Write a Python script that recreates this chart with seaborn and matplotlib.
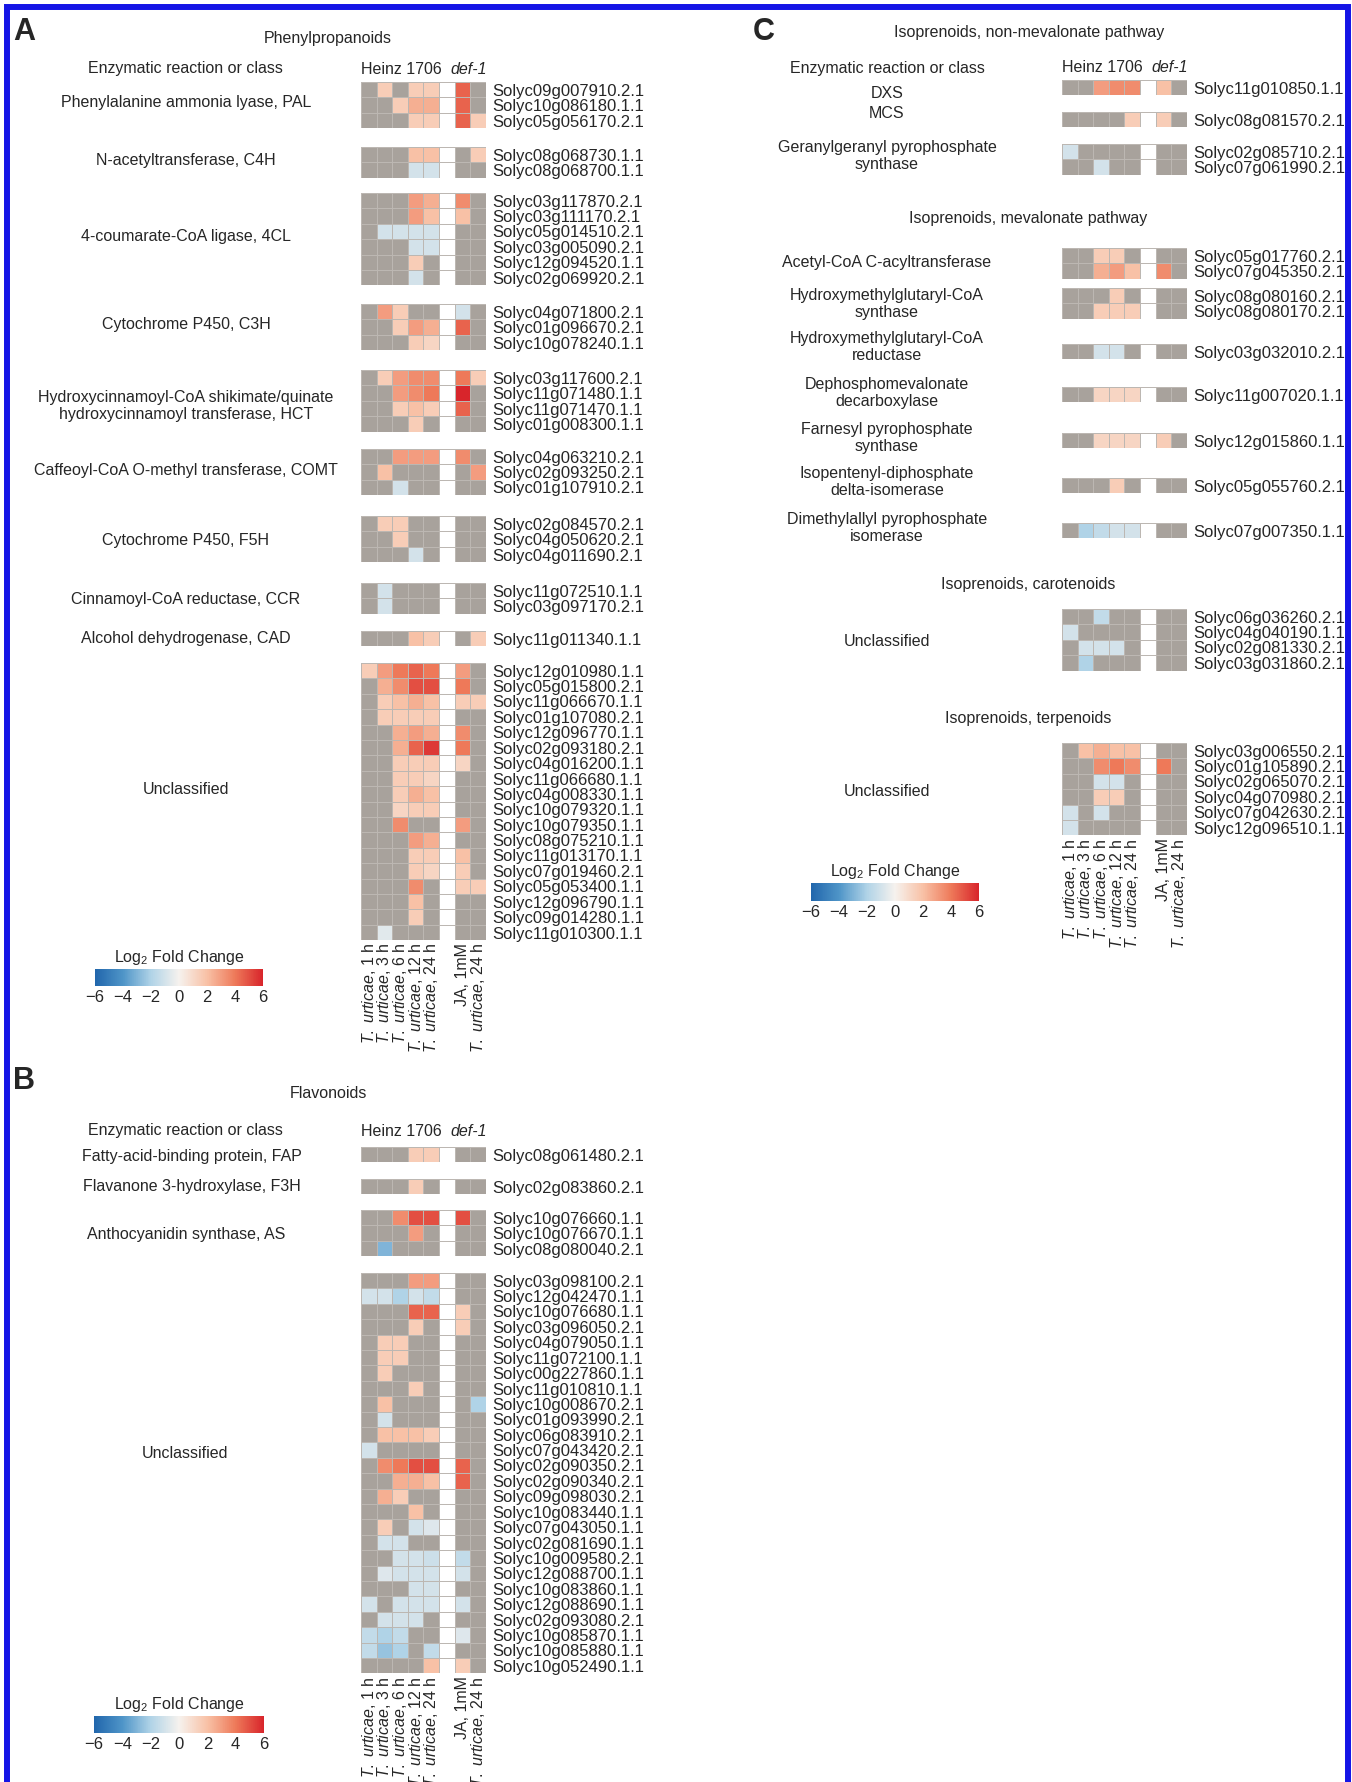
import numpy as np
import pandas as pd
import matplotlib
matplotlib.use("Agg")
import matplotlib.pyplot as plt
import seaborn as sns
from matplotlib.colors import LinearSegmentedColormap, ListedColormap, Normalize
from matplotlib.cm import ScalarMappable
from matplotlib.patches import Rectangle

g = np.nan  # not significant -> grey cell

conditions = ["T. urticae, 1 h", "T. urticae, 3 h", "T. urticae, 6 h",
              "T. urticae, 12 h", "T. urticae, 24 h", "JA, 1mM", "T. urticae, 24 h"]

# ---------------- A: phenylpropanoids ----------------
pal_genes = ["Solyc09g007910.2.1", "Solyc10g086180.1.1", "Solyc05g056170.2.1"]
pal_vals = [[g, 1.5, g, 1.5, 1.5, 4.5, g],
            [g, g, 1.5, 2.5, 2.5, 4.5, g],
            [g, g, g, 1.5, 1.5, 4.5, 1.5]]
c4h_genes = ["Solyc08g068730.1.1", "Solyc08g068700.1.1"]
c4h_vals = [[g, g, g, 2, 2, g, 1.5],
            [g, g, g, -1, -1, g, g]]
cl4_genes = ["Solyc03g117870.2.1", "Solyc03g111170.2.1", "Solyc05g014510.2.1",
             "Solyc03g005090.2.1", "Solyc12g094520.1.1", "Solyc02g069920.2.1"]
cl4_vals = [[g, g, g, 3, 2.5, 3.5, g],
            [g, g, g, 3, 2, 2, g],
            [g, -1, -1, -1, -1, g, g],
            [g, g, g, -1, -1, g, g],
            [g, g, g, 1.5, g, g, g],
            [g, g, g, -1, g, g, g]]
c3h_genes = ["Solyc04g071800.2.1", "Solyc01g096670.2.1", "Solyc10g078240.1.1"]
c3h_vals = [[g, 3, 1.5, g, g, -1, g],
            [g, g, 1.5, 3, 2.5, 4.5, g],
            [g, g, g, 1.5, 1.2, g, g]]
hct_genes = ["Solyc03g117600.2.1", "Solyc11g071480.1.1", "Solyc11g071470.1.1", "Solyc01g008300.1.1"]
hct_vals = [[g, 1.5, 3, 3.5, 3.5, 4, 1.5],
            [g, g, 3, 3.5, 4, 6, g],
            [g, g, 1.5, 2, 1.5, 4.5, g],
            [g, g, g, 1.5, g, g, g]]
comt_genes = ["Solyc04g063210.2.1", "Solyc02g093250.2.1", "Solyc01g107910.2.1"]
comt_vals = [[g, g, 3, 3, 3, 3.5, g],
             [g, 2, g, g, g, g, 3],
             [g, g, -1, g, g, g, g]]
f5h_genes = ["Solyc02g084570.2.1", "Solyc04g050620.2.1", "Solyc04g011690.2.1"]
f5h_vals = [[g, 1.5, 1.5, g, g, g, g],
            [g, g, 1.5, g, g, g, g],
            [g, g, g, -1, g, g, g]]
ccr_genes = ["Solyc11g072510.1.1", "Solyc03g097170.2.1"]
ccr_vals = [[g, -1, g, g, g, g, g],
            [g, -1, g, g, g, g, g]]
cad_genes = ["Solyc11g011340.1.1"]
cad_vals = [[g, g, g, 2, 1.5, g, 1.5]]
a_unc_genes = ["Solyc12g010980.1.1", "Solyc05g015800.2.1", "Solyc11g066670.1.1",
               "Solyc01g107080.2.1", "Solyc12g096770.1.1", "Solyc02g093180.2.1",
               "Solyc04g016200.1.1", "Solyc11g066680.1.1", "Solyc04g008330.1.1",
               "Solyc10g079320.1.1", "Solyc10g079350.1.1", "Solyc08g075210.1.1",
               "Solyc11g013170.1.1", "Solyc07g019460.2.1", "Solyc05g053400.1.1",
               "Solyc12g096790.1.1", "Solyc09g014280.1.1", "Solyc11g010300.1.1"]
a_unc_vals = [[1.5, 3, 4, 4.5, 4, 3, g],
              [g, 2.5, 3.5, 5, 5, 4, g],
              [g, 1.5, 2, 2.5, 2, 1.5, 1.5],
              [g, 1.5, 1.5, 1.5, 1.5, g, g],
              [g, g, 2.5, 3, 2.5, 3.5, g],
              [g, g, 2.5, 4.5, 5.5, 4, g],
              [g, g, 1.5, 1.5, 1.5, 1.2, g],
              [g, g, 1.5, 1.5, 1.2, g, g],
              [g, g, 1.5, 2.5, 2, g, g],
              [g, g, 1.2, 1.5, 1.5, g, g],
              [g, g, 3.5, g, g, 3, g],
              [g, g, g, 3, 2.5, g, g],
              [g, g, g, 1.5, 1.5, 2, g],
              [g, g, g, 1.5, 1.2, 1.5, g],
              [g, g, g, 3.5, g, 1.5, 1.5],
              [g, g, g, 2, g, g, g],
              [g, g, g, 1.5, g, g, g],
              [g, -0.6, g, g, g, g, g]]

# ---------------- B: flavonoids ----------------
fap_genes = ["Solyc08g061480.2.1"]
fap_vals = [[g, g, g, 1.5, 1.5, g, g]]
f3h_genes = ["Solyc02g083860.2.1"]
f3h_vals = [[g, g, g, 1.5, g, g, g]]
as_genes = ["Solyc10g076660.1.1", "Solyc10g076670.1.1", "Solyc08g080040.2.1"]
as_vals = [[g, g, 3.5, 5, 5, 5, g],
           [g, g, g, 3, g, g, g],
           [g, -3, g, g, g, g, g]]
b_unc_genes = ["Solyc03g098100.2.1", "Solyc12g042470.1.1", "Solyc10g076680.1.1",
               "Solyc03g096050.2.1", "Solyc04g079050.1.1", "Solyc11g072100.1.1",
               "Solyc00g227860.1.1", "Solyc11g010810.1.1", "Solyc10g008670.2.1",
               "Solyc01g093990.2.1", "Solyc06g083910.2.1", "Solyc07g043420.2.1",
               "Solyc02g090350.2.1", "Solyc02g090340.2.1", "Solyc09g098030.2.1",
               "Solyc10g083440.1.1", "Solyc07g043050.1.1", "Solyc02g081690.1.1",
               "Solyc10g009580.2.1", "Solyc12g088700.1.1", "Solyc10g083860.1.1",
               "Solyc12g088690.1.1", "Solyc02g093080.2.1", "Solyc10g085870.1.1",
               "Solyc10g085880.1.1", "Solyc10g052490.1.1"]
b_unc_vals = [[g, g, g, 3, 3, g, g],
              [-1, -1, -2, -1, -1.5, g, g],
              [g, g, g, 4.5, 4.5, 1.5, g],
              [g, g, g, 1.5, g, 1.5, g],
              [g, 1.5, 1.5, g, g, g, g],
              [g, 1.5, 1.5, g, g, g, g],
              [g, 1.5, g, g, g, g, g],
              [g, g, g, 1.5, g, g, g],
              [g, 2, g, g, g, g, -2],
              [g, -1, g, g, g, g, g],
              [g, 2, 2, 2, 1.5, g, g],
              [-1, g, g, g, g, g, g],
              [g, 3.5, 4, 5, 5, 4.5, g],
              [g, g, 2.5, 2.5, 2, 4.5, g],
              [g, 2.5, 1.5, g, g, g, g],
              [g, g, g, 2, g, g, g],
              [g, 1.5, g, -1, -0.7, g, g],
              [g, -1, -1, g, g, g, g],
              [g, g, -1, -1, -1.2, -1.5, g],
              [g, -0.7, -1, -1, -1, -1, g],
              [g, g, g, -1, -1, g, g],
              [-1, g, -1, -1, -1, -1, g],
              [g, -1, -1, -1, g, g, g],
              [-1.5, -2, -1.5, g, g, -0.7, g],
              [-1.5, -2.5, -2, g, -1.5, g, g],
              [g, g, g, g, 2, 1.5, g]]

# ---------------- C: isoprenoids ----------------
dxs_genes = ["Solyc11g010850.1.1"]
dxs_vals = [[g, g, 3, 3.5, 3.5, 2, g]]
mcs_genes = ["Solyc08g081570.2.1"]
mcs_vals = [[g, g, g, g, 1.5, 1.5, g]]
ggpps_genes = ["Solyc02g085710.2.1", "Solyc07g061990.2.1"]
ggpps_vals = [[-1, g, g, g, g, g, g],
              [g, g, -1, g, g, g, g]]
acat_genes = ["Solyc05g017760.2.1", "Solyc07g045350.2.1"]
acat_vals = [[g, g, 1.5, 1.5, g, g, g],
             [g, g, 2.5, 3, 2, 3.5, g]]
hmgs_genes = ["Solyc08g080160.2.1", "Solyc08g080170.2.1"]
hmgs_vals = [[g, g, g, 1.5, g, g, g],
             [g, g, 1.5, 1.5, 1.5, g, g]]
hmgr_genes = ["Solyc03g032010.2.1"]
hmgr_vals = [[g, g, -1, -1, g, g, g]]
dpmd_genes = ["Solyc11g007020.1.1"]
dpmd_vals = [[g, g, 1.2, 1.2, 1.2, g, g]]
fpps_genes = ["Solyc12g015860.1.1"]
fpps_vals = [[g, g, 1.2, 1.2, 1.2, 1.5, g]]
ippi_genes = ["Solyc05g055760.2.1"]
ippi_vals = [[g, g, g, 1.5, g, g, g]]
dmappi_genes = ["Solyc07g007350.1.1"]
dmappi_vals = [[g, -2, -1.5, -1, -1, g, g]]
carot_genes = ["Solyc06g036260.2.1", "Solyc04g040190.1.1", "Solyc02g081330.2.1", "Solyc03g031860.2.1"]
carot_vals = [[g, g, -1.5, g, g, g, g],
              [-1, g, g, g, g, g, g],
              [g, -1, -1, -1, g, g, g],
              [g, -2, g, g, g, g, g]]
terp_genes = ["Solyc03g006550.2.1", "Solyc01g105890.2.1", "Solyc02g065070.2.1",
              "Solyc04g070980.2.1", "Solyc07g042630.2.1", "Solyc12g096510.1.1"]
terp_vals = [[g, 2, 2.5, 2, 2, g, g],
             [g, g, 3.5, 4, 3.5, 4, g],
             [g, g, -1, -1, g, g, g],
             [g, g, 1.5, 1.5, g, g, g],
             [-1, g, -1, g, g, g, g],
             [-1, g, g, g, g, g, g]]

# ---------------- style ----------------
sns.set_style("white")
plt.rcParams["font.family"] = ["Liberation Sans", "DejaVu Sans"]
plt.rcParams["mathtext.fontset"] = "custom"
plt.rcParams["mathtext.rm"] = "Liberation Sans"
plt.rcParams["mathtext.it"] = "Liberation Sans:italic"

W, H = 1352, 1782
ROW, COL = 15.4, 15.6
FS = 11.5
GREY, LINE = "#a8a29c", "#bcb7b2"
cmap = LinearSegmentedColormap.from_list("lfc", [
    (0.0, "#2166ac"), (1/6, "#4f95c8"), (2/6, "#b0d3e7"), (0.5, "#f6f2ee"),
    (4/6, "#f8c1a6"), (5/6, "#ee7a5a"), (1.0, "#d8252b")])

fig = plt.figure(figsize=(W / 100, H / 100), dpi=100)


def fx(x):
    return x / W


def fy(y):
    return 1 - y / H


def txt(x, y, s, **kw):
    kw.setdefault("fontsize", FS)
    kw.setdefault("ha", "center")
    kw.setdefault("va", "center")
    fig.text(fx(x), fy(y), s, **kw)


def xlab(s):
    if s.startswith("T. urticae"):
        return r"$\mathit{T.\ urticae}$" + s[len("T. urticae"):]
    return s


def block(x0, top, vals, genes, show_x=False):
    arr = np.insert(np.array(vals, dtype=float), 5, np.nan, axis=1)
    n = arr.shape[0]
    ax = fig.add_axes([fx(x0), fy(top + n * ROW), 8 * COL / W, n * ROW / H])
    base = np.zeros_like(arr)
    base[:, 5] = 1
    sns.heatmap(base, cmap=ListedColormap([GREY, "white"]), vmin=0, vmax=1, cbar=False,
                linewidths=0.6, linecolor=LINE, xticklabels=False, yticklabels=False, ax=ax)
    df = pd.DataFrame(arr, index=genes)
    sns.heatmap(df, mask=df.isna(), cmap=cmap, vmin=-6, vmax=6, cbar=False,
                linewidths=0.6, linecolor=LINE, xticklabels=False, yticklabels=False, ax=ax)
    ax.yaxis.tick_right()
    ax.set_yticks(np.arange(n) + 0.5)
    ax.set_yticklabels(genes, rotation=0, fontsize=12)
    ax.tick_params(axis="y", length=0, pad=5)
    if show_x:
        labs = conditions[:5] + [""] + conditions[5:]
        ax.set_xticks(np.arange(8) + 0.5)
        ax.set_xticklabels([xlab(s) for s in labs], rotation=90, fontsize=FS)
        ax.tick_params(axis="x", length=0, pad=2)
    ax.set_xlabel("")
    ax.set_ylabel("")
    return ax


def colorbar(x0, y0, x1, y1):
    cax = fig.add_axes([fx(x0), fy(y1), (x1 - x0) / W, (y1 - y0) / H])
    cb = fig.colorbar(ScalarMappable(norm=Normalize(-6, 6), cmap=cmap), cax=cax,
                      orientation="horizontal", ticks=[-6, -4, -2, 0, 2, 4, 6])
    cb.outline.set_visible(False)
    cax.tick_params(length=0, labelsize=12, pad=3)
    txt((x0 + x1) / 2, y0 - 12, r"Log$_2$ Fold Change")


def header(x0, y):
    fig.text(fx(x0), fy(y), "Heinz 1706", fontsize=FS, ha="left", va="center")
    fig.text(fx(x0 + 8 * COL + 1), fy(y), "def-1", fontsize=FS, ha="right", va="center", style="italic")


# ---------------- panel A ----------------
AX = 361
txt(13, 32, "A", fontsize=22, fontweight="bold", ha="left")
txt(328, 38, "Phenylpropanoids")
txt(185, 68, "Enzymatic reaction or class")
header(AX, 69)
a_blocks = [(82, pal_vals, pal_genes, "Phenylalanine ammonia lyase, PAL", 102),
            (147, c4h_vals, c4h_genes, "N-acetyltransferase, C4H", 160),
            (193, cl4_vals, cl4_genes, "4-coumarate-CoA ligase, 4CL", 236),
            (304, c3h_vals, c3h_genes, "Cytochrome P450, C3H", 325),
            (370, hct_vals, hct_genes,
             "Hydroxycinnamoyl-CoA shikimate/quinate\nhydroxycinnamoyl transferase, HCT", 406),
            (449, comt_vals, comt_genes, "Caffeoyl-CoA O-methyl transferase, COMT", 471),
            (516, f5h_vals, f5h_genes, "Cytochrome P450, F5H", 541),
            (583, ccr_vals, ccr_genes, "Cinnamoyl-CoA reductase, CCR", 599),
            (631, cad_vals, cad_genes, "Alcohol dehydrogenase, CAD", 638),
            (663, a_unc_vals, a_unc_genes, "Unclassified", 790)]
for i, (top, v, gn, lab, ly) in enumerate(a_blocks):
    block(AX, top, v, gn, show_x=(i == len(a_blocks) - 1))
    txt(186, ly, lab)
colorbar(95, 969, 263, 986)

# ---------------- panel B ----------------
txt(13, 1081, "B", fontsize=22, fontweight="bold", ha="left")
txt(328, 1094, "Flavonoids")
txt(185, 1130, "Enzymatic reaction or class")
header(AX, 1131)
b_blocks = [(1147, fap_vals, fap_genes, "Fatty-acid-binding protein, FAP", 1157, 192),
            (1179, f3h_vals, f3h_genes, "Flavanone 3-hydroxylase, F3H", 1187, 192),
            (1210, as_vals, as_genes, "Anthocyanidin synthase, AS", 1235, 186),
            (1273, b_unc_vals, b_unc_genes, "Unclassified", 1453, 185)]
for i, (top, v, gn, lab, ly, lx) in enumerate(b_blocks):
    block(AX, top, v, gn, show_x=(i == len(b_blocks) - 1))
    txt(lx, ly, lab)
colorbar(94, 1716, 264, 1733)

# ---------------- panel C ----------------
CX = 1062
txt(753, 32, "C", fontsize=22, fontweight="bold", ha="left")
txt(1029, 32, "Isoprenoids, non-mevalonate pathway")
txt(887, 68, "Enzymatic reaction or class")
header(CX, 68)
txt(1028, 218, "Isoprenoids, mevalonate pathway")
txt(1028, 585, "Isoprenoids, carotenoids")
txt(1028, 718, "Isoprenoids, terpenoids")
c_blocks = [(80, dxs_vals, dxs_genes, "DXS", 93),
            (112, mcs_vals, mcs_genes, "MCS", 114),
            (144, ggpps_vals, ggpps_genes, "Geranylgeranyl pyrophosphate\nsynthase", 156),
            (248, acat_vals, acat_genes, "Acetyl-CoA C-acyltransferase", 262),
            (288, hmgs_vals, hmgs_genes, "Hydroxymethylglutaryl-CoA\nsynthase", 304),
            (344, hmgr_vals, hmgr_genes, "Hydroxymethylglutaryl-CoA\nreductase", 347),
            (387, dpmd_vals, dpmd_genes, "Dephosphomevalonate\ndecarboxylase", 393),
            (433, fpps_vals, fpps_genes, "Farnesyl pyrophosphate\nsynthase", 438),
            (478, ippi_vals, ippi_genes, "Isopentenyl-diphosphate\ndelta-isomerase", 482),
            (523, dmappi_vals, dmappi_genes, "Dimethylallyl pyrophosphate\nisomerase", 528),
            (609, carot_vals, carot_genes, "Unclassified", 642),
            (743, terp_vals, terp_genes, "Unclassified", 792)]
for i, (top, v, gn, lab, ly) in enumerate(c_blocks):
    block(CX, top, v, gn, show_x=(i == len(c_blocks) - 1))
    txt(887, ly, lab)
colorbar(811, 883, 979, 901)

# blue frame around the figure
fig.patches.append(Rectangle((fx(7), fy(H + 20)), fx(1348 - 7), (H + 13) / H,
                             transform=fig.transFigure, fill=False,
                             edgecolor="#1414e6", linewidth=4.3, zorder=10))

fig.savefig("out.png", dpi=100)
